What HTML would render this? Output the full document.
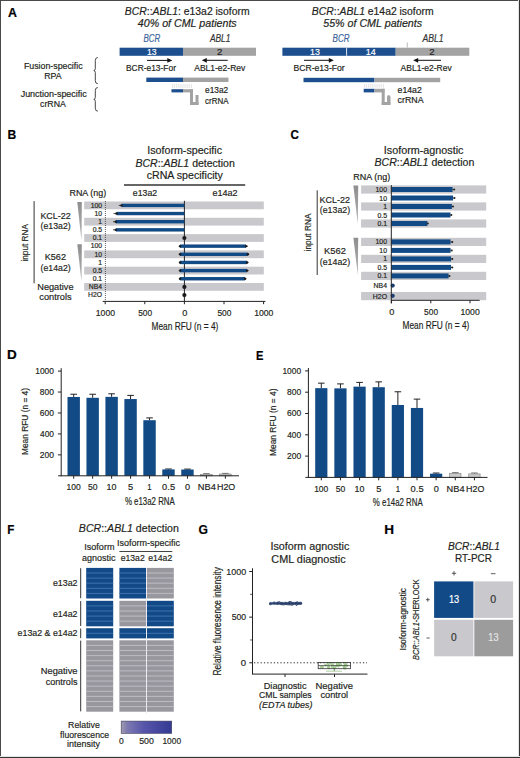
<!DOCTYPE html>
<html><head><meta charset="utf-8"><title>Figure</title>
<style>
html,body{margin:0;padding:0;background:#fff;}
body{width:520px;height:758px;overflow:hidden;}
svg{display:block;font-family:"Liberation Sans",sans-serif;}
text{stroke-width:0.18px;}
</style></head>
<body>
<svg width="520" height="758" viewBox="0 0 520 758" fill="#231f20">
<rect x="0" y="0" width="520" height="758" fill="#fff" />
<rect x="0" y="0" width="520" height="1" fill="#4a4a4a" />
<rect x="0" y="0" width="1" height="758" fill="#4a4a4a" />
<rect x="518" y="0" width="1" height="758" fill="#e4e4e4" />
<rect x="519" y="0" width="1" height="758" fill="#353535" />
<rect x="0" y="756" width="520" height="1" fill="#e4e4e4" />
<rect x="0" y="757" width="520" height="1" fill="#353535" />
<text x="7.99" y="16.8" font-size="12.8" font-weight="bold" textLength="8.95" lengthAdjust="spacingAndGlyphs" fill="#000" stroke="#000" stroke-width="0.4">A</text>
<text x="7.51" y="138.6" font-size="12.8" font-weight="bold" textLength="8.76" lengthAdjust="spacingAndGlyphs" fill="#000" stroke="#000" stroke-width="0.4">B</text>
<text x="290.44" y="138.5" font-size="12.8" font-weight="bold" textLength="8.38" lengthAdjust="spacingAndGlyphs" fill="#000" stroke="#000" stroke-width="0.4">C</text>
<text x="6.92" y="359.3" font-size="12.8" font-weight="bold" textLength="9.75" lengthAdjust="spacingAndGlyphs" fill="#000" stroke="#000" stroke-width="0.4">D</text>
<text x="256.08" y="359.5" font-size="12.8" font-weight="bold" textLength="7.44" lengthAdjust="spacingAndGlyphs" fill="#000" stroke="#000" stroke-width="0.4">E</text>
<text x="7.25" y="534.3" font-size="12.8" font-weight="bold" textLength="7.07" lengthAdjust="spacingAndGlyphs" fill="#000" stroke="#000" stroke-width="0.4">F</text>
<text x="198.41" y="534.1" font-size="12.8" font-weight="bold" textLength="9.45" lengthAdjust="spacingAndGlyphs" fill="#000" stroke="#000" stroke-width="0.4">G</text>
<text x="384.22" y="534.3" font-size="12.8" font-weight="bold" textLength="9.79" lengthAdjust="spacingAndGlyphs" fill="#000" stroke="#000" stroke-width="0.4">H</text>
<text x="124.89" y="15.3" font-size="10.20" textLength="124.75" lengthAdjust="spacingAndGlyphs" fill="#231f20" stroke="#231f20"><tspan font-style="italic">BCR</tspan>::<tspan font-style="italic">ABL1</tspan>: e13a2 isoform</text>
<text x="137.85" y="27.2" font-size="10.20" textLength="98.86" lengthAdjust="spacingAndGlyphs" fill="#231f20" stroke="#231f20"><tspan font-style="italic">40% of CML patients</tspan></text>
<text x="143.56" y="41.6" font-size="10.20" textLength="16.69" lengthAdjust="spacingAndGlyphs" fill="#3a639a" stroke="#3a639a"><tspan font-style="italic">BCR</tspan></text>
<text x="209.92" y="41.7" font-size="10.20" textLength="20.51" lengthAdjust="spacingAndGlyphs" fill="#333" stroke="#333"><tspan font-style="italic">ABL1</tspan></text>
<rect x="119.6" y="47.7" width="63.4" height="8.1" fill="#1d4f8f" />
<rect x="183" y="47.7" width="73" height="8.1" fill="#a3a3a3" />
<text x="146.95" y="54.6" font-size="9.20" textLength="9.61" lengthAdjust="spacingAndGlyphs" fill="#fff" stroke="#fff">13</text>
<text x="216.92" y="54.6" font-size="9.20" textLength="5.38" lengthAdjust="spacingAndGlyphs" fill="#222" stroke="#222">2</text>
<line x1="147" y1="60.4" x2="169.3" y2="60.4" stroke="#111" stroke-width="1" />
<path d="M172.3,60.4 L167.3,58.0 L167.3,62.8 Z" fill="#111"/>
<line x1="204.8" y1="60.3" x2="227.7" y2="60.3" stroke="#111" stroke-width="1" />
<path d="M201.8,60.3 L206.8,57.9 L206.8,62.699999999999996 Z" fill="#111"/>
<text x="126.03" y="71.2" font-size="8.40" textLength="49.91" lengthAdjust="spacingAndGlyphs" fill="#231f20" stroke="#231f20">BCR-e13-For</text>
<text x="194.30" y="71" font-size="8.40" textLength="50.93" lengthAdjust="spacingAndGlyphs" fill="#231f20" stroke="#231f20">ABL1-e2-Rev</text>
<rect x="146.3" y="77.6" width="36.7" height="4.4" fill="#1d4f8f" />
<rect x="183" y="77.6" width="45.5" height="4.4" fill="#a3a3a3" />
<line x1="172.5" y1="84" x2="172.5" y2="88" stroke="#dcdcdc" stroke-width="0.8" />
<line x1="174.6" y1="84" x2="174.6" y2="88" stroke="#dcdcdc" stroke-width="0.8" />
<line x1="176.7" y1="84" x2="176.7" y2="88" stroke="#dcdcdc" stroke-width="0.8" />
<line x1="178.8" y1="84" x2="178.8" y2="88" stroke="#dcdcdc" stroke-width="0.8" />
<line x1="180.9" y1="84" x2="180.9" y2="88" stroke="#dcdcdc" stroke-width="0.8" />
<line x1="183.0" y1="84" x2="183.0" y2="88" stroke="#dcdcdc" stroke-width="0.8" />
<line x1="185.1" y1="84" x2="185.1" y2="88" stroke="#dcdcdc" stroke-width="0.8" />
<line x1="187.2" y1="84" x2="187.2" y2="88" stroke="#dcdcdc" stroke-width="0.8" />
<line x1="189.3" y1="84" x2="189.3" y2="88" stroke="#dcdcdc" stroke-width="0.8" />
<line x1="191.4" y1="84" x2="191.4" y2="88" stroke="#dcdcdc" stroke-width="0.8" />
<rect x="171.5" y="89.2" width="11.5" height="3.2" fill="#1d4f8f" />
<rect x="183" y="89.2" width="10" height="3.2" fill="#a3a3a3" />
<rect x="190" y="89.2" width="3" height="15.8" fill="#a3a3a3" />
<rect x="190" y="102" width="8.5" height="3" fill="#a3a3a3" />
<rect x="195.5" y="95" width="3" height="10" fill="#a3a3a3" />
<text x="205.07" y="93" font-size="8.40" textLength="23.05" lengthAdjust="spacingAndGlyphs" fill="#231f20" stroke="#231f20">e13a2</text>
<text x="205.08" y="103.8" font-size="8.40" textLength="23.45" lengthAdjust="spacingAndGlyphs" fill="#231f20" stroke="#231f20">crRNA</text>
<text x="311.89" y="15.3" font-size="10.20" textLength="121.67" lengthAdjust="spacingAndGlyphs" fill="#231f20" stroke="#231f20"><tspan font-style="italic">BCR</tspan>::<tspan font-style="italic">ABL1</tspan> e14a2 isoform</text>
<text x="323.23" y="27.2" font-size="10.20" textLength="98.88" lengthAdjust="spacingAndGlyphs" fill="#231f20" stroke="#231f20"><tspan font-style="italic">55% of CML patients</tspan></text>
<text x="332.56" y="41.8" font-size="10.20" textLength="16.89" lengthAdjust="spacingAndGlyphs" fill="#3a639a" stroke="#3a639a"><tspan font-style="italic">BCR</tspan></text>
<text x="422.43" y="41.8" font-size="10.20" textLength="21.11" lengthAdjust="spacingAndGlyphs" fill="#333" stroke="#333"><tspan font-style="italic">ABL1</tspan></text>
<rect x="282.4" y="47.7" width="113.3" height="8.1" fill="#1d4f8f" />
<rect x="395.7" y="47.7" width="73.6" height="8.1" fill="#a3a3a3" />
<rect x="346.1" y="47.7" width="1" height="8.1" fill="#dfe7f1" />
<line x1="407.3" y1="42.5" x2="407.3" y2="47.5" stroke="#aaa" stroke-width="0.8" />
<text x="310.04" y="54.6" font-size="9.20" textLength="9.84" lengthAdjust="spacingAndGlyphs" fill="#fff" stroke="#fff">13</text>
<text x="365.73" y="54.6" font-size="9.20" textLength="9.96" lengthAdjust="spacingAndGlyphs" fill="#fff" stroke="#fff">14</text>
<text x="429.32" y="54.6" font-size="9.20" textLength="5.38" lengthAdjust="spacingAndGlyphs" fill="#222" stroke="#222">2</text>
<line x1="304" y1="60.3" x2="330.8" y2="60.3" stroke="#111" stroke-width="1" />
<path d="M333.8,60.3 L328.8,57.9 L328.8,62.699999999999996 Z" fill="#111"/>
<line x1="416.2" y1="60.3" x2="441" y2="60.3" stroke="#111" stroke-width="1" />
<path d="M413.2,60.3 L418.2,57.9 L418.2,62.699999999999996 Z" fill="#111"/>
<text x="293.41" y="71" font-size="8.40" textLength="51.33" lengthAdjust="spacingAndGlyphs" fill="#231f20" stroke="#231f20">BCR-e13-For</text>
<text x="400.60" y="71" font-size="8.40" textLength="51.13" lengthAdjust="spacingAndGlyphs" fill="#231f20" stroke="#231f20">ABL1-e2-Rev</text>
<rect x="303.5" y="77.8" width="71" height="4.4" fill="#1d4f8f" />
<rect x="374.5" y="77.8" width="65.7" height="4.4" fill="#a3a3a3" />
<line x1="364.5" y1="84" x2="364.5" y2="87.8" stroke="#dcdcdc" stroke-width="0.8" />
<line x1="366.6" y1="84" x2="366.6" y2="87.8" stroke="#dcdcdc" stroke-width="0.8" />
<line x1="368.7" y1="84" x2="368.7" y2="87.8" stroke="#dcdcdc" stroke-width="0.8" />
<line x1="370.8" y1="84" x2="370.8" y2="87.8" stroke="#dcdcdc" stroke-width="0.8" />
<line x1="372.9" y1="84" x2="372.9" y2="87.8" stroke="#dcdcdc" stroke-width="0.8" />
<line x1="375.0" y1="84" x2="375.0" y2="87.8" stroke="#dcdcdc" stroke-width="0.8" />
<line x1="377.1" y1="84" x2="377.1" y2="87.8" stroke="#dcdcdc" stroke-width="0.8" />
<line x1="379.2" y1="84" x2="379.2" y2="87.8" stroke="#dcdcdc" stroke-width="0.8" />
<line x1="381.3" y1="84" x2="381.3" y2="87.8" stroke="#dcdcdc" stroke-width="0.8" />
<line x1="383.4" y1="84" x2="383.4" y2="87.8" stroke="#dcdcdc" stroke-width="0.8" />
<rect x="363.7" y="88.8" width="10.8" height="3.6" fill="#1d4f8f" />
<rect x="374.5" y="88.8" width="9.9" height="3.6" fill="#a3a3a3" />
<rect x="381.7" y="88.8" width="3" height="16" fill="#a3a3a3" />
<rect x="381.7" y="102" width="8.6" height="3" fill="#a3a3a3" />
<rect x="387.2" y="95.2" width="3.1" height="9.8" rx="1.2" fill="#a3a3a3"/>
<rect x="387.2" y="97" width="3.1" height="8" fill="#a3a3a3" />
<text x="397.55" y="92.5" font-size="8.40" textLength="24.19" lengthAdjust="spacingAndGlyphs" fill="#231f20" stroke="#231f20">e14a2</text>
<text x="397.55" y="103.2" font-size="8.40" textLength="25.99" lengthAdjust="spacingAndGlyphs" fill="#231f20" stroke="#231f20">crRNA</text>
<text x="23.90" y="68.8" font-size="8.80" textLength="58.72" lengthAdjust="spacingAndGlyphs" fill="#231f20" stroke="#231f20">Fusion-specific</text>
<text x="44.30" y="78.8" font-size="8.80" textLength="17.32" lengthAdjust="spacingAndGlyphs" fill="#231f20" stroke="#231f20">RPA</text>
<text x="20.67" y="97.3" font-size="8.80" textLength="66.08" lengthAdjust="spacingAndGlyphs" fill="#231f20" stroke="#231f20">Junction-specific</text>
<text x="40.05" y="106.8" font-size="8.80" textLength="25.79" lengthAdjust="spacingAndGlyphs" fill="#231f20" stroke="#231f20">crRNA</text>
<path d="M97.8,57.5 Q95.3,57.5 95.3,60.5 L95.3,68.6 Q95.3,70.6 93.8,70.6 Q95.3,70.6 95.3,72.6 L95.3,80.7 Q95.3,83.7 97.8,83.7" fill="none" stroke="#333" stroke-width="0.9"/>
<path d="M97.8,87.5 Q95.3,87.5 95.3,90.5 L95.3,97.35 Q95.3,99.35 93.8,99.35 Q95.3,99.35 95.3,101.35 L95.3,108.2 Q95.3,111.2 97.8,111.2" fill="none" stroke="#333" stroke-width="0.9"/>
<text x="147.24" y="153.7" font-size="10.30" textLength="74.75" lengthAdjust="spacingAndGlyphs" fill="#231f20" stroke="#231f20">Isoform-specific</text>
<text x="135.48" y="166.6" font-size="10.30" textLength="99.30" lengthAdjust="spacingAndGlyphs" fill="#231f20" stroke="#231f20"><tspan font-style="italic">BCR</tspan>::<tspan font-style="italic">ABL1</tspan> detection</text>
<text x="146.67" y="178.8" font-size="10.30" textLength="76.21" lengthAdjust="spacingAndGlyphs" fill="#231f20" stroke="#231f20">cRNA specificity</text>
<line x1="124" y1="185" x2="245.2" y2="185" stroke="#333" stroke-width="1.4" />
<text x="132.85" y="195.7" font-size="8.40" textLength="24.29" lengthAdjust="spacingAndGlyphs" fill="#231f20" stroke="#231f20">e13a2</text>
<text x="212.54" y="195.8" font-size="8.40" textLength="25.12" lengthAdjust="spacingAndGlyphs" fill="#231f20" stroke="#231f20">e14a2</text>
<text x="69.49" y="195.6" font-size="8.20" textLength="36.67" lengthAdjust="spacingAndGlyphs" fill="#231f20" stroke="#231f20">RNA (ng)</text>
<rect x="84.2" y="201.5" width="179.6" height="7.8" fill="#c9c9cd" />
<text x="102.1" y="207.7" font-size="6.8" text-anchor="end" fill="#231f20" stroke="#231f20">100</text>
<text x="102.1" y="215.85" font-size="6.8" text-anchor="end" fill="#231f20" stroke="#231f20">10</text>
<rect x="84.2" y="217.8" width="179.6" height="7.8" fill="#c9c9cd" />
<text x="102.1" y="224.0" font-size="6.8" text-anchor="end" fill="#231f20" stroke="#231f20">1</text>
<text x="102.1" y="232.14999999999998" font-size="6.8" text-anchor="end" fill="#231f20" stroke="#231f20">0.5</text>
<rect x="84.2" y="234.1" width="179.6" height="7.8" fill="#c9c9cd" />
<text x="102.1" y="240.29999999999998" font-size="6.8" text-anchor="end" fill="#231f20" stroke="#231f20">0.1</text>
<text x="102.1" y="248.45" font-size="6.8" text-anchor="end" fill="#231f20" stroke="#231f20">100</text>
<rect x="84.2" y="250.4" width="179.6" height="7.8" fill="#c9c9cd" />
<text x="102.1" y="256.6" font-size="6.8" text-anchor="end" fill="#231f20" stroke="#231f20">10</text>
<text x="102.1" y="264.75" font-size="6.8" text-anchor="end" fill="#231f20" stroke="#231f20">1</text>
<rect x="84.2" y="266.7" width="179.6" height="7.8" fill="#c9c9cd" />
<text x="102.1" y="272.9" font-size="6.8" text-anchor="end" fill="#231f20" stroke="#231f20">0.5</text>
<text x="102.1" y="281.05" font-size="6.8" text-anchor="end" fill="#231f20" stroke="#231f20">0.1</text>
<rect x="84.2" y="283.0" width="179.6" height="7.8" fill="#c9c9cd" />
<text x="102.1" y="289.2" font-size="6.8" text-anchor="end" fill="#231f20" stroke="#231f20">NB4</text>
<text x="102.1" y="297.34999999999997" font-size="6.8" text-anchor="end" fill="#231f20" stroke="#231f20">H2O</text>
<line x1="105.4" y1="201" x2="105.4" y2="301.2" stroke="#333" stroke-width="0.9" stroke-dasharray="0.9,1.1"/>
<line x1="184.4" y1="200.8" x2="184.4" y2="301.2" stroke="#222" stroke-width="1" />
<rect x="121.5" y="203.70000000000002" width="62.900000000000006" height="3.4" fill="#114a85" />
<line x1="118.8" y1="205.4" x2="121.5" y2="205.4" stroke="#222" stroke-width="0.8" />
<circle cx="121.5" cy="205.4" r="1.2" fill="#1a1a1a"/>
<rect x="116.5" y="211.85000000000002" width="67.9" height="3.4" fill="#114a85" />
<line x1="113.5" y1="213.55" x2="116.5" y2="213.55" stroke="#222" stroke-width="0.8" />
<circle cx="116.5" cy="213.55" r="1.2" fill="#1a1a1a"/>
<rect x="115.8" y="220.00000000000003" width="68.60000000000001" height="3.4" fill="#114a85" />
<line x1="113" y1="221.70000000000002" x2="115.8" y2="221.70000000000002" stroke="#222" stroke-width="0.8" />
<circle cx="115.8" cy="221.70000000000002" r="1.2" fill="#1a1a1a"/>
<rect x="115.8" y="228.15" width="68.60000000000001" height="3.4" fill="#114a85" />
<line x1="113" y1="229.85" x2="115.8" y2="229.85" stroke="#222" stroke-width="0.8" />
<circle cx="115.8" cy="229.85" r="1.2" fill="#1a1a1a"/>
<rect x="180" y="244.45000000000002" width="66" height="3.4" fill="#114a85" />
<line x1="246" y1="246.15" x2="247.9" y2="246.15" stroke="#222" stroke-width="0.8" />
<circle cx="246" cy="246.15" r="1.2" fill="#1a1a1a"/>
<circle cx="180" cy="246.15" r="1.2" fill="#1a1a1a"/>
<rect x="180" y="252.60000000000002" width="67.9" height="3.4" fill="#114a85" />
<line x1="247.9" y1="254.3" x2="249" y2="254.3" stroke="#222" stroke-width="0.8" />
<circle cx="247.9" cy="254.3" r="1.2" fill="#1a1a1a"/>
<circle cx="180" cy="254.3" r="1.2" fill="#1a1a1a"/>
<rect x="180" y="260.75" width="67.1" height="3.4" fill="#114a85" />
<line x1="247.1" y1="262.45" x2="248.5" y2="262.45" stroke="#222" stroke-width="0.8" />
<circle cx="247.1" cy="262.45" r="1.2" fill="#1a1a1a"/>
<circle cx="180" cy="262.45" r="1.2" fill="#1a1a1a"/>
<rect x="180" y="268.9" width="67.1" height="3.4" fill="#114a85" />
<line x1="247.1" y1="270.59999999999997" x2="248.5" y2="270.59999999999997" stroke="#222" stroke-width="0.8" />
<circle cx="247.1" cy="270.59999999999997" r="1.2" fill="#1a1a1a"/>
<circle cx="180" cy="270.59999999999997" r="1.2" fill="#1a1a1a"/>
<rect x="180" y="277.05" width="65" height="3.4" fill="#114a85" />
<line x1="245" y1="278.75" x2="246.5" y2="278.75" stroke="#222" stroke-width="0.8" />
<circle cx="245" cy="278.75" r="1.2" fill="#1a1a1a"/>
<circle cx="180" cy="278.75" r="1.2" fill="#1a1a1a"/>
<circle cx="184.4" cy="238.0" r="2.1" fill="#1a1a1a"/>
<circle cx="184.4" cy="286.9" r="2.1" fill="#1a1a1a"/>
<circle cx="184.4" cy="295.04999999999995" r="2.1" fill="#1a1a1a"/>
<line x1="102.7" y1="301.4" x2="265.4" y2="301.4" stroke="#222" stroke-width="1" />
<line x1="105.2" y1="301.4" x2="105.2" y2="304.2" stroke="#222" stroke-width="1" />
<text x="95.80" y="315.5" font-size="9.20" textLength="19.25" lengthAdjust="spacingAndGlyphs" fill="#231f20" stroke="#231f20">1000</text>
<line x1="144.8" y1="301.4" x2="144.8" y2="304.2" stroke="#222" stroke-width="1" />
<text x="138.22" y="315.5" font-size="9.20" textLength="13.96" lengthAdjust="spacingAndGlyphs" fill="#231f20" stroke="#231f20">500</text>
<line x1="184.4" y1="301.4" x2="184.4" y2="304.2" stroke="#222" stroke-width="1" />
<text x="182.23" y="315.5" font-size="9.20" textLength="5.10" lengthAdjust="spacingAndGlyphs" fill="#231f20" stroke="#231f20">0</text>
<line x1="224" y1="301.4" x2="224" y2="304.2" stroke="#222" stroke-width="1" />
<text x="217.42" y="315.5" font-size="9.20" textLength="13.96" lengthAdjust="spacingAndGlyphs" fill="#231f20" stroke="#231f20">500</text>
<line x1="263.6" y1="301.4" x2="263.6" y2="304.2" stroke="#222" stroke-width="1" />
<text x="254.20" y="315.5" font-size="9.20" textLength="19.25" lengthAdjust="spacingAndGlyphs" fill="#231f20" stroke="#231f20">1000</text>
<text x="151.53" y="329.6" font-size="11.00" textLength="66.81" lengthAdjust="spacingAndGlyphs" fill="#231f20" stroke="#231f20">Mean RFU (n = 4)</text>
<line x1="34.1" y1="201.1" x2="34.1" y2="283.3" stroke="#333" stroke-width="1" />
<text transform="translate(27.50,261.54) rotate(-90)" x="0" y="0" font-size="9.60" textLength="37.56" lengthAdjust="spacingAndGlyphs" fill="#231f20" stroke="#231f20">input RNA</text>
<defs><linearGradient id="wg" x1="0" y1="0" x2="0" y2="1"><stop offset="0" stop-color="#8e8e8e"/><stop offset="1" stop-color="#b4b4b4"/></linearGradient></defs>
<path d="M77.3,202 L81.8,202 L81.5,240.7 Z" fill="url(#wg)"/>
<path d="M77.3,244.3 L81.8,244.3 L81.5,281.7 Z" fill="url(#wg)"/>
<text x="40.39" y="219" font-size="9.30" textLength="30.27" lengthAdjust="spacingAndGlyphs" fill="#231f20" stroke="#231f20">KCL-22</text>
<text x="40.57" y="228.7" font-size="9.30" textLength="30.17" lengthAdjust="spacingAndGlyphs" fill="#231f20" stroke="#231f20">(e13a2)</text>
<text x="44.77" y="260.4" font-size="9.30" textLength="21.18" lengthAdjust="spacingAndGlyphs" fill="#231f20" stroke="#231f20">K562</text>
<text x="40.57" y="270.5" font-size="9.30" textLength="30.17" lengthAdjust="spacingAndGlyphs" fill="#231f20" stroke="#231f20">(e14a2)</text>
<text x="37.26" y="290.1" font-size="9.30" textLength="36.27" lengthAdjust="spacingAndGlyphs" fill="#231f20" stroke="#231f20">Negative</text>
<text x="39.33" y="299.6" font-size="9.30" textLength="32.31" lengthAdjust="spacingAndGlyphs" fill="#231f20" stroke="#231f20">controls</text>
<text x="383.83" y="153.8" font-size="10.30" textLength="79.66" lengthAdjust="spacingAndGlyphs" fill="#231f20" stroke="#231f20">Isoform-agnostic</text>
<text x="374.48" y="166.2" font-size="10.30" textLength="99.80" lengthAdjust="spacingAndGlyphs" fill="#231f20" stroke="#231f20"><tspan font-style="italic">BCR</tspan>::<tspan font-style="italic">ABL1</tspan> detection</text>
<text x="353.38" y="180" font-size="8.20" textLength="36.88" lengthAdjust="spacingAndGlyphs" fill="#231f20" stroke="#231f20">RNA (ng)</text>
<rect x="361.1" y="185.4" width="125.1" height="8.2" fill="#c9c9cd" />
<text x="387" y="192.0" font-size="6.9" text-anchor="end" fill="#231f20" stroke="#231f20">100</text>
<text x="387" y="200.5" font-size="6.9" text-anchor="end" fill="#231f20" stroke="#231f20">10</text>
<rect x="361.1" y="202.4" width="125.1" height="8.2" fill="#c9c9cd" />
<text x="387" y="209.0" font-size="6.9" text-anchor="end" fill="#231f20" stroke="#231f20">1</text>
<text x="387" y="217.5" font-size="6.9" text-anchor="end" fill="#231f20" stroke="#231f20">0.5</text>
<rect x="361.1" y="219.4" width="125.1" height="8.2" fill="#c9c9cd" />
<text x="387" y="226.0" font-size="6.9" text-anchor="end" fill="#231f20" stroke="#231f20">0.1</text>
<rect x="361.1" y="237.8" width="125.1" height="8.2" fill="#c9c9cd" />
<text x="387" y="244.4" font-size="6.9" text-anchor="end" fill="#231f20" stroke="#231f20">100</text>
<text x="387" y="252.9" font-size="6.9" text-anchor="end" fill="#231f20" stroke="#231f20">10</text>
<rect x="361.1" y="254.8" width="125.1" height="8.2" fill="#c9c9cd" />
<text x="387" y="261.40000000000003" font-size="6.9" text-anchor="end" fill="#231f20" stroke="#231f20">1</text>
<text x="387" y="269.90000000000003" font-size="6.9" text-anchor="end" fill="#231f20" stroke="#231f20">0.5</text>
<rect x="361.1" y="271.8" width="125.1" height="8.2" fill="#c9c9cd" />
<text x="387" y="278.40000000000003" font-size="6.9" text-anchor="end" fill="#231f20" stroke="#231f20">0.1</text>
<text x="387" y="287.90000000000003" font-size="6.9" text-anchor="end" fill="#231f20" stroke="#231f20">NB4</text>
<rect x="361.1" y="292" width="125.1" height="8.2" fill="#c9c9cd" />
<text x="387" y="298.6" font-size="6.9" text-anchor="end" fill="#231f20" stroke="#231f20">H2O</text>
<rect x="391.3" y="187.0" width="61.3073" height="5" fill="#114a85" />
<line x1="452.6073" y1="189.5" x2="454.1813" y2="189.5" stroke="#222" stroke-width="0.9" />
<circle cx="454.2" cy="189.5" r="1" fill="#222"/>
<rect x="391.3" y="195.5" width="61.779499999999985" height="5" fill="#114a85" />
<line x1="453.0795" y1="198.0" x2="454.4961" y2="198.0" stroke="#222" stroke-width="0.9" />
<circle cx="454.5" cy="198.0" r="1" fill="#222"/>
<rect x="391.3" y="204.0" width="60.59899999999999" height="5" fill="#114a85" />
<line x1="451.899" y1="206.5" x2="453.0008" y2="206.5" stroke="#222" stroke-width="0.9" />
<circle cx="453.0" cy="206.5" r="1" fill="#222"/>
<rect x="391.3" y="212.5" width="59.18239999999997" height="5" fill="#114a85" />
<line x1="450.4824" y1="215.0" x2="451.42679999999996" y2="215.0" stroke="#222" stroke-width="0.9" />
<circle cx="451.4" cy="215.0" r="1" fill="#222"/>
<rect x="391.3" y="221.0" width="36.0446" height="5" fill="#114a85" />
<line x1="427.3446" y1="223.5" x2="427.8168" y2="223.5" stroke="#222" stroke-width="0.9" />
<circle cx="427.8" cy="223.5" r="1" fill="#222"/>
<rect x="391.3" y="239.4" width="59.2611" height="5" fill="#114a85" />
<line x1="450.5611" y1="241.9" x2="452.2925" y2="241.9" stroke="#222" stroke-width="0.9" />
<circle cx="452.3" cy="241.9" r="1" fill="#222"/>
<rect x="391.3" y="247.9" width="59.2611" height="5" fill="#114a85" />
<line x1="450.5611" y1="250.4" x2="451.82030000000003" y2="250.4" stroke="#222" stroke-width="0.9" />
<circle cx="451.8" cy="250.4" r="1" fill="#222"/>
<rect x="391.3" y="256.40000000000003" width="59.733299999999986" height="5" fill="#114a85" />
<line x1="451.0333" y1="258.90000000000003" x2="452.2925" y2="258.90000000000003" stroke="#222" stroke-width="0.9" />
<circle cx="452.3" cy="258.90000000000003" r="1" fill="#222"/>
<rect x="391.3" y="264.90000000000003" width="59.733299999999986" height="5" fill="#114a85" />
<line x1="451.0333" y1="267.40000000000003" x2="452.2925" y2="267.40000000000003" stroke="#222" stroke-width="0.9" />
<circle cx="452.3" cy="267.40000000000003" r="1" fill="#222"/>
<rect x="391.3" y="273.40000000000003" width="57.293600000000026" height="5" fill="#114a85" />
<line x1="448.59360000000004" y1="275.90000000000003" x2="449.538" y2="275.90000000000003" stroke="#222" stroke-width="0.9" />
<circle cx="449.5" cy="275.90000000000003" r="1" fill="#222"/>
<circle cx="392.7" cy="285.6" r="2.1" fill="#1b3f73"/>
<circle cx="392.7" cy="295.8" r="2.1" fill="#1b3f73"/>
<line x1="391.3" y1="185.1" x2="391.3" y2="303.3" stroke="#222" stroke-width="1" />
<line x1="391.3" y1="300.3" x2="479.7" y2="300.3" stroke="#222" stroke-width="1" />
<line x1="391.4" y1="300.3" x2="391.4" y2="303.3" stroke="#222" stroke-width="1" />
<text x="389.13" y="314.7" font-size="9.20" textLength="5.10" lengthAdjust="spacingAndGlyphs" fill="#231f20" stroke="#231f20">0</text>
<line x1="430.8" y1="300.3" x2="430.8" y2="303.3" stroke="#222" stroke-width="1" />
<text x="424.12" y="314.7" font-size="9.20" textLength="13.96" lengthAdjust="spacingAndGlyphs" fill="#231f20" stroke="#231f20">500</text>
<line x1="470" y1="300.3" x2="470" y2="303.3" stroke="#222" stroke-width="1" />
<text x="460.50" y="314.7" font-size="9.20" textLength="19.25" lengthAdjust="spacingAndGlyphs" fill="#231f20" stroke="#231f20">1000</text>
<text x="402.53" y="329.3" font-size="11.00" textLength="66.81" lengthAdjust="spacingAndGlyphs" fill="#231f20" stroke="#231f20">Mean RFU (n = 4)</text>
<line x1="317.2" y1="190.3" x2="317.2" y2="275" stroke="#333" stroke-width="1" />
<text transform="translate(311.30,251.34) rotate(-90)" x="0" y="0" font-size="9.60" textLength="37.76" lengthAdjust="spacingAndGlyphs" fill="#231f20" stroke="#231f20">input RNA</text>
<path d="M353.4,185.6 L358.2,185.6 L357.8,224.3 Z" fill="url(#wg)"/>
<path d="M353.4,237.8 L358.2,237.8 L357.8,275 Z" fill="url(#wg)"/>
<text x="319.58" y="203" font-size="9.30" textLength="30.48" lengthAdjust="spacingAndGlyphs" fill="#231f20" stroke="#231f20">KCL-22</text>
<text x="319.77" y="213.3" font-size="9.30" textLength="30.37" lengthAdjust="spacingAndGlyphs" fill="#231f20" stroke="#231f20">(e13a2)</text>
<text x="324.05" y="254.4" font-size="9.30" textLength="21.82" lengthAdjust="spacingAndGlyphs" fill="#231f20" stroke="#231f20">K562</text>
<text x="319.77" y="264.7" font-size="9.30" textLength="30.37" lengthAdjust="spacingAndGlyphs" fill="#231f20" stroke="#231f20">(e14a2)</text>
<line x1="61.2" y1="368.2" x2="61.2" y2="476.3" stroke="#222" stroke-width="1" />
<line x1="57.900000000000006" y1="371.1" x2="61.2" y2="371.1" stroke="#222" stroke-width="1" />
<text x="35.27" y="373.8" font-size="9.00" textLength="18.62" lengthAdjust="spacingAndGlyphs" fill="#231f20" stroke="#231f20">1000</text>
<line x1="57.900000000000006" y1="392.04" x2="61.2" y2="392.04" stroke="#222" stroke-width="1" />
<text x="39.82" y="394.74" font-size="9.00" textLength="14.11" lengthAdjust="spacingAndGlyphs" fill="#231f20" stroke="#231f20">800</text>
<line x1="57.900000000000006" y1="412.98" x2="61.2" y2="412.98" stroke="#222" stroke-width="1" />
<text x="39.78" y="415.68" font-size="9.00" textLength="14.15" lengthAdjust="spacingAndGlyphs" fill="#231f20" stroke="#231f20">600</text>
<line x1="57.900000000000006" y1="433.92" x2="61.2" y2="433.92" stroke="#222" stroke-width="1" />
<text x="40.03" y="436.62" font-size="9.00" textLength="13.89" lengthAdjust="spacingAndGlyphs" fill="#231f20" stroke="#231f20">400</text>
<line x1="57.900000000000006" y1="454.86" x2="61.2" y2="454.86" stroke="#222" stroke-width="1" />
<text x="39.78" y="457.56" font-size="9.00" textLength="14.15" lengthAdjust="spacingAndGlyphs" fill="#231f20" stroke="#231f20">200</text>
<line x1="73.7" y1="396.96090000000004" x2="73.7" y2="394.23870000000005" stroke="#222" stroke-width="1" />
<line x1="70.4" y1="394.23870000000005" x2="77.0" y2="394.23870000000005" stroke="#222" stroke-width="1" />
<rect x="67.5" y="396.96090000000004" width="12.4" height="78.83909999999997" fill="#114a85" />
<line x1="73.7" y1="475.8" x2="73.7" y2="478.7" stroke="#222" stroke-width="1" />
<text x="66.56" y="490.3" font-size="9.00" textLength="14.16" lengthAdjust="spacingAndGlyphs" fill="#231f20" stroke="#231f20">100</text>
<line x1="92.66000000000001" y1="397.7985" x2="92.66000000000001" y2="394.2387" stroke="#222" stroke-width="1" />
<line x1="89.36000000000001" y1="394.2387" x2="95.96000000000001" y2="394.2387" stroke="#222" stroke-width="1" />
<rect x="86.46000000000001" y="397.7985" width="12.4" height="78.00150000000002" fill="#114a85" />
<line x1="92.66000000000001" y1="475.8" x2="92.66000000000001" y2="478.7" stroke="#222" stroke-width="1" />
<text x="87.97" y="490.3" font-size="9.00" textLength="9.57" lengthAdjust="spacingAndGlyphs" fill="#231f20" stroke="#231f20">50</text>
<line x1="111.62" y1="396.8562" x2="111.62" y2="393.8199" stroke="#222" stroke-width="1" />
<line x1="108.32000000000001" y1="393.8199" x2="114.92" y2="393.8199" stroke="#222" stroke-width="1" />
<rect x="105.42" y="396.8562" width="12.4" height="78.94380000000001" fill="#114a85" />
<line x1="111.62" y1="475.8" x2="111.62" y2="478.7" stroke="#222" stroke-width="1" />
<text x="106.60" y="490.3" font-size="9.00" textLength="9.90" lengthAdjust="spacingAndGlyphs" fill="#231f20" stroke="#231f20">10</text>
<line x1="130.57999999999998" y1="399.0549" x2="130.57999999999998" y2="395.3904" stroke="#222" stroke-width="1" />
<line x1="127.27999999999999" y1="395.3904" x2="133.88" y2="395.3904" stroke="#222" stroke-width="1" />
<rect x="124.38" y="399.0549" width="12.4" height="76.74510000000004" fill="#114a85" />
<line x1="130.57999999999998" y1="475.8" x2="130.57999999999998" y2="478.7" stroke="#222" stroke-width="1" />
<text x="128.11" y="490.3" font-size="9.00" textLength="5.15" lengthAdjust="spacingAndGlyphs" fill="#231f20" stroke="#231f20">5</text>
<line x1="149.54" y1="420.2043" x2="149.54" y2="417.9009" stroke="#222" stroke-width="1" />
<line x1="146.23999999999998" y1="417.9009" x2="152.84" y2="417.9009" stroke="#222" stroke-width="1" />
<rect x="143.34" y="420.2043" width="12.4" height="55.59570000000002" fill="#114a85" />
<line x1="149.54" y1="475.8" x2="149.54" y2="478.7" stroke="#222" stroke-width="1" />
<text x="147.35" y="490.3" font-size="9.00" textLength="4.35" lengthAdjust="spacingAndGlyphs" fill="#231f20" stroke="#231f20">1</text>
<line x1="168.5" y1="469.4133" x2="168.5" y2="468.9945" stroke="#222" stroke-width="1" />
<line x1="165.2" y1="468.9945" x2="171.8" y2="468.9945" stroke="#222" stroke-width="1" />
<rect x="162.3" y="469.4133" width="12.4" height="6.386700000000019" fill="#114a85" />
<line x1="168.5" y1="475.8" x2="168.5" y2="478.7" stroke="#222" stroke-width="1" />
<text x="162.13" y="490.3" font-size="9.00" textLength="12.95" lengthAdjust="spacingAndGlyphs" fill="#231f20" stroke="#231f20">0.5</text>
<line x1="187.45999999999998" y1="469.51800000000003" x2="187.45999999999998" y2="469.09920000000005" stroke="#222" stroke-width="1" />
<line x1="184.15999999999997" y1="469.09920000000005" x2="190.76" y2="469.09920000000005" stroke="#222" stroke-width="1" />
<rect x="181.26" y="469.51800000000003" width="12.4" height="6.281999999999982" fill="#114a85" />
<line x1="187.45999999999998" y1="475.8" x2="187.45999999999998" y2="478.7" stroke="#222" stroke-width="1" />
<text x="184.99" y="490.3" font-size="9.00" textLength="5.10" lengthAdjust="spacingAndGlyphs" fill="#231f20" stroke="#231f20">0</text>
<line x1="206.42" y1="474.3342" x2="206.42" y2="473.706" stroke="#666" stroke-width="1" />
<line x1="203.11999999999998" y1="473.706" x2="209.72" y2="473.706" stroke="#666" stroke-width="1" />
<rect x="200.62" y="474.3342" width="11.6" height="1.4658000000000015" fill="#c9c9c9" stroke="#8c8c8c" stroke-width="0.7"/>
<line x1="206.42" y1="475.8" x2="206.42" y2="478.7" stroke="#222" stroke-width="1" />
<text x="197.78" y="490.3" font-size="9.00" textLength="18.02" lengthAdjust="spacingAndGlyphs" fill="#231f20" stroke="#231f20">NB4</text>
<line x1="225.38" y1="474.0201" x2="225.38" y2="473.3919" stroke="#666" stroke-width="1" />
<line x1="222.07999999999998" y1="473.3919" x2="228.68" y2="473.3919" stroke="#666" stroke-width="1" />
<rect x="219.58" y="474.0201" width="11.6" height="1.7798999999999978" fill="#c9c9c9" stroke="#8c8c8c" stroke-width="0.7"/>
<line x1="225.38" y1="475.8" x2="225.38" y2="478.7" stroke="#222" stroke-width="1" />
<text x="216.97" y="490.3" font-size="9.00" textLength="18.32" lengthAdjust="spacingAndGlyphs" fill="#231f20" stroke="#231f20">H2O</text>
<line x1="58.1" y1="475.8" x2="239" y2="475.8" stroke="#222" stroke-width="1" />
<text x="124.92" y="504.8" font-size="10.60" textLength="49.89" lengthAdjust="spacingAndGlyphs" fill="#231f20" stroke="#231f20">% e13a2 RNA</text>
<text transform="translate(28.40,454.97) rotate(-90)" x="0" y="0" font-size="9.40" textLength="67.01" lengthAdjust="spacingAndGlyphs" fill="#231f20" stroke="#231f20">Mean RFU (n = 4)</text>
<line x1="308.4" y1="368.0" x2="308.4" y2="477.9" stroke="#222" stroke-width="1" />
<line x1="305.09999999999997" y1="370.9" x2="308.4" y2="370.9" stroke="#222" stroke-width="1" />
<text x="282.47" y="373.59999999999997" font-size="9.00" textLength="18.62" lengthAdjust="spacingAndGlyphs" fill="#231f20" stroke="#231f20">1000</text>
<line x1="305.09999999999997" y1="392.2" x2="308.4" y2="392.2" stroke="#222" stroke-width="1" />
<text x="287.02" y="394.9" font-size="9.00" textLength="14.11" lengthAdjust="spacingAndGlyphs" fill="#231f20" stroke="#231f20">800</text>
<line x1="305.09999999999997" y1="413.5" x2="308.4" y2="413.5" stroke="#222" stroke-width="1" />
<text x="286.98" y="416.2" font-size="9.00" textLength="14.15" lengthAdjust="spacingAndGlyphs" fill="#231f20" stroke="#231f20">600</text>
<line x1="305.09999999999997" y1="434.79999999999995" x2="308.4" y2="434.79999999999995" stroke="#222" stroke-width="1" />
<text x="287.23" y="437.49999999999994" font-size="9.00" textLength="13.89" lengthAdjust="spacingAndGlyphs" fill="#231f20" stroke="#231f20">400</text>
<line x1="305.09999999999997" y1="456.09999999999997" x2="308.4" y2="456.09999999999997" stroke="#222" stroke-width="1" />
<text x="286.98" y="458.79999999999995" font-size="9.00" textLength="14.15" lengthAdjust="spacingAndGlyphs" fill="#231f20" stroke="#231f20">200</text>
<line x1="321.3" y1="388.15299999999996" x2="321.3" y2="383.1475" stroke="#222" stroke-width="1" />
<line x1="318.0" y1="383.1475" x2="324.6" y2="383.1475" stroke="#222" stroke-width="1" />
<rect x="315.2" y="388.15299999999996" width="12.2" height="89.24700000000001" fill="#114a85" />
<line x1="321.3" y1="477.4" x2="321.3" y2="480.29999999999995" stroke="#222" stroke-width="1" />
<text x="314.16" y="491.7" font-size="9.00" textLength="14.16" lengthAdjust="spacingAndGlyphs" fill="#231f20" stroke="#231f20">100</text>
<line x1="340.44" y1="388.366" x2="340.44" y2="383.893" stroke="#222" stroke-width="1" />
<line x1="337.14" y1="383.893" x2="343.74" y2="383.893" stroke="#222" stroke-width="1" />
<rect x="334.34" y="388.366" width="12.2" height="89.03399999999999" fill="#114a85" />
<line x1="340.44" y1="477.4" x2="340.44" y2="480.29999999999995" stroke="#222" stroke-width="1" />
<text x="335.75" y="491.7" font-size="9.00" textLength="9.57" lengthAdjust="spacingAndGlyphs" fill="#231f20" stroke="#231f20">50</text>
<line x1="359.58000000000004" y1="386.662" x2="359.58000000000004" y2="382.402" stroke="#222" stroke-width="1" />
<line x1="356.28000000000003" y1="382.402" x2="362.88000000000005" y2="382.402" stroke="#222" stroke-width="1" />
<rect x="353.48" y="386.662" width="12.2" height="90.738" fill="#114a85" />
<line x1="359.58000000000004" y1="477.4" x2="359.58000000000004" y2="480.29999999999995" stroke="#222" stroke-width="1" />
<text x="354.56" y="491.7" font-size="9.00" textLength="9.90" lengthAdjust="spacingAndGlyphs" fill="#231f20" stroke="#231f20">10</text>
<line x1="378.72" y1="387.19449999999995" x2="378.72" y2="381.86949999999996" stroke="#222" stroke-width="1" />
<line x1="375.42" y1="381.86949999999996" x2="382.02000000000004" y2="381.86949999999996" stroke="#222" stroke-width="1" />
<rect x="372.62" y="387.19449999999995" width="12.2" height="90.20550000000003" fill="#114a85" />
<line x1="378.72" y1="477.4" x2="378.72" y2="480.29999999999995" stroke="#222" stroke-width="1" />
<text x="376.25" y="491.7" font-size="9.00" textLength="5.15" lengthAdjust="spacingAndGlyphs" fill="#231f20" stroke="#231f20">5</text>
<line x1="397.86" y1="404.97999999999996" x2="397.86" y2="391.77399999999994" stroke="#222" stroke-width="1" />
<line x1="394.56" y1="391.77399999999994" x2="401.16" y2="391.77399999999994" stroke="#222" stroke-width="1" />
<rect x="391.76" y="404.97999999999996" width="12.2" height="72.42000000000002" fill="#114a85" />
<line x1="397.86" y1="477.4" x2="397.86" y2="480.29999999999995" stroke="#222" stroke-width="1" />
<text x="395.67" y="491.7" font-size="9.00" textLength="4.35" lengthAdjust="spacingAndGlyphs" fill="#231f20" stroke="#231f20">1</text>
<line x1="417.0" y1="407.962" x2="417.0" y2="399.1225" stroke="#222" stroke-width="1" />
<line x1="413.7" y1="399.1225" x2="420.3" y2="399.1225" stroke="#222" stroke-width="1" />
<rect x="410.9" y="407.962" width="12.2" height="69.43799999999999" fill="#114a85" />
<line x1="417.0" y1="477.4" x2="417.0" y2="480.29999999999995" stroke="#222" stroke-width="1" />
<text x="410.63" y="491.7" font-size="9.00" textLength="12.95" lengthAdjust="spacingAndGlyphs" fill="#231f20" stroke="#231f20">0.5</text>
<line x1="436.14" y1="473.67249999999996" x2="436.14" y2="473.03349999999995" stroke="#222" stroke-width="1" />
<line x1="432.84" y1="473.03349999999995" x2="439.44" y2="473.03349999999995" stroke="#222" stroke-width="1" />
<rect x="430.03999999999996" y="473.67249999999996" width="12.2" height="3.7275000000000205" fill="#114a85" />
<line x1="436.14" y1="477.4" x2="436.14" y2="480.29999999999995" stroke="#222" stroke-width="1" />
<text x="433.67" y="491.7" font-size="9.00" textLength="5.10" lengthAdjust="spacingAndGlyphs" fill="#231f20" stroke="#231f20">0</text>
<line x1="455.28000000000003" y1="473.566" x2="455.28000000000003" y2="472.714" stroke="#666" stroke-width="1" />
<line x1="451.98" y1="472.714" x2="458.58000000000004" y2="472.714" stroke="#666" stroke-width="1" />
<rect x="449.58" y="473.566" width="11.399999999999999" height="3.834000000000003" fill="#c9c9c9" stroke="#8c8c8c" stroke-width="0.7"/>
<line x1="455.28000000000003" y1="477.4" x2="455.28000000000003" y2="480.29999999999995" stroke="#222" stroke-width="1" />
<text x="446.64" y="491.7" font-size="9.00" textLength="18.02" lengthAdjust="spacingAndGlyphs" fill="#231f20" stroke="#231f20">NB4</text>
<line x1="474.42" y1="473.8855" x2="474.42" y2="473.0335" stroke="#666" stroke-width="1" />
<line x1="471.12" y1="473.0335" x2="477.72" y2="473.0335" stroke="#666" stroke-width="1" />
<rect x="468.71999999999997" y="473.8855" width="11.399999999999999" height="3.514499999999998" fill="#c9c9c9" stroke="#8c8c8c" stroke-width="0.7"/>
<line x1="474.42" y1="477.4" x2="474.42" y2="480.29999999999995" stroke="#222" stroke-width="1" />
<text x="466.01" y="491.7" font-size="9.00" textLength="18.32" lengthAdjust="spacingAndGlyphs" fill="#231f20" stroke="#231f20">H2O</text>
<line x1="305.4" y1="477.4" x2="487.5" y2="477.4" stroke="#222" stroke-width="1" />
<text x="372.82" y="505.6" font-size="10.60" textLength="49.89" lengthAdjust="spacingAndGlyphs" fill="#231f20" stroke="#231f20">% e14a2 RNA</text>
<text transform="translate(275.70,456.07) rotate(-90)" x="0" y="0" font-size="9.40" textLength="67.62" lengthAdjust="spacingAndGlyphs" fill="#231f20" stroke="#231f20">Mean RFU (n = 4)</text>
<text x="78.88" y="532.2" font-size="10.30" textLength="99.90" lengthAdjust="spacingAndGlyphs" fill="#231f20" stroke="#231f20"><tspan font-style="italic">BCR</tspan>::<tspan font-style="italic">ABL1</tspan> detection</text>
<text x="84.28" y="550.2" font-size="9.30" textLength="30.20" lengthAdjust="spacingAndGlyphs" fill="#231f20" stroke="#231f20">Isoform</text>
<text x="82.04" y="560.8" font-size="9.30" textLength="33.38" lengthAdjust="spacingAndGlyphs" fill="#231f20" stroke="#231f20">agnostic</text>
<text x="117.09" y="545.6" font-size="9.30" textLength="62.85" lengthAdjust="spacingAndGlyphs" fill="#231f20" stroke="#231f20">Isoform-specific</text>
<line x1="119.4" y1="551.5" x2="172.3" y2="551.5" stroke="#444" stroke-width="1" />
<text x="120.65" y="561.2" font-size="9.30" textLength="24.09" lengthAdjust="spacingAndGlyphs" fill="#231f20" stroke="#231f20">e13a2</text>
<text x="148.15" y="561.2" font-size="9.30" textLength="24.09" lengthAdjust="spacingAndGlyphs" fill="#231f20" stroke="#231f20">e14a2</text>
<rect x="86.2" y="567.9" width="27" height="30.599999999999998" fill="#114a87" />
<line x1="86.2" y1="573.0" x2="113.2" y2="573.0" stroke="#4677b3" stroke-width="0.9" />
<line x1="86.2" y1="578.1" x2="113.2" y2="578.1" stroke="#4677b3" stroke-width="0.9" />
<line x1="86.2" y1="583.1999999999999" x2="113.2" y2="583.1999999999999" stroke="#4677b3" stroke-width="0.9" />
<line x1="86.2" y1="588.3" x2="113.2" y2="588.3" stroke="#4677b3" stroke-width="0.9" />
<line x1="86.2" y1="593.4" x2="113.2" y2="593.4" stroke="#4677b3" stroke-width="0.9" />
<rect x="119.4" y="567.9" width="26.6" height="30.599999999999998" fill="#114a87" />
<line x1="119.4" y1="573.0" x2="146.0" y2="573.0" stroke="#4677b3" stroke-width="0.9" />
<line x1="119.4" y1="578.1" x2="146.0" y2="578.1" stroke="#4677b3" stroke-width="0.9" />
<line x1="119.4" y1="583.1999999999999" x2="146.0" y2="583.1999999999999" stroke="#4677b3" stroke-width="0.9" />
<line x1="119.4" y1="588.3" x2="146.0" y2="588.3" stroke="#4677b3" stroke-width="0.9" />
<line x1="119.4" y1="593.4" x2="146.0" y2="593.4" stroke="#4677b3" stroke-width="0.9" />
<rect x="147" y="567.9" width="26.8" height="30.599999999999998" fill="#99979e" />
<line x1="147" y1="573.0" x2="173.8" y2="573.0" stroke="#c2bfc8" stroke-width="0.9" />
<line x1="147" y1="578.1" x2="173.8" y2="578.1" stroke="#c2bfc8" stroke-width="0.9" />
<line x1="147" y1="583.1999999999999" x2="173.8" y2="583.1999999999999" stroke="#c2bfc8" stroke-width="0.9" />
<line x1="147" y1="588.3" x2="173.8" y2="588.3" stroke="#c2bfc8" stroke-width="0.9" />
<line x1="147" y1="593.4" x2="173.8" y2="593.4" stroke="#c2bfc8" stroke-width="0.9" />
<line x1="80.7" y1="568.1999999999999" x2="80.7" y2="598.2" stroke="#333" stroke-width="1" />
<rect x="86.2" y="600.8" width="27" height="25.5" fill="#114a87" />
<line x1="86.2" y1="605.9" x2="113.2" y2="605.9" stroke="#4677b3" stroke-width="0.9" />
<line x1="86.2" y1="611.0" x2="113.2" y2="611.0" stroke="#4677b3" stroke-width="0.9" />
<line x1="86.2" y1="616.0999999999999" x2="113.2" y2="616.0999999999999" stroke="#4677b3" stroke-width="0.9" />
<line x1="86.2" y1="621.1999999999999" x2="113.2" y2="621.1999999999999" stroke="#4677b3" stroke-width="0.9" />
<rect x="119.4" y="600.8" width="26.6" height="25.5" fill="#99979e" />
<line x1="119.4" y1="605.9" x2="146.0" y2="605.9" stroke="#c2bfc8" stroke-width="0.9" />
<line x1="119.4" y1="611.0" x2="146.0" y2="611.0" stroke="#c2bfc8" stroke-width="0.9" />
<line x1="119.4" y1="616.0999999999999" x2="146.0" y2="616.0999999999999" stroke="#c2bfc8" stroke-width="0.9" />
<line x1="119.4" y1="621.1999999999999" x2="146.0" y2="621.1999999999999" stroke="#c2bfc8" stroke-width="0.9" />
<rect x="147" y="600.8" width="26.8" height="25.5" fill="#114a87" />
<line x1="147" y1="605.9" x2="173.8" y2="605.9" stroke="#4677b3" stroke-width="0.9" />
<line x1="147" y1="611.0" x2="173.8" y2="611.0" stroke="#4677b3" stroke-width="0.9" />
<line x1="147" y1="616.0999999999999" x2="173.8" y2="616.0999999999999" stroke="#4677b3" stroke-width="0.9" />
<line x1="147" y1="621.1999999999999" x2="173.8" y2="621.1999999999999" stroke="#4677b3" stroke-width="0.9" />
<line x1="80.7" y1="601.0999999999999" x2="80.7" y2="626.0" stroke="#333" stroke-width="1" />
<rect x="86.2" y="628.2" width="27" height="10.2" fill="#114a87" />
<line x1="86.2" y1="633.3000000000001" x2="113.2" y2="633.3000000000001" stroke="#4677b3" stroke-width="0.9" />
<rect x="119.4" y="628.2" width="26.6" height="10.2" fill="#114a87" />
<line x1="119.4" y1="633.3000000000001" x2="146.0" y2="633.3000000000001" stroke="#4677b3" stroke-width="0.9" />
<rect x="147" y="628.2" width="26.8" height="10.2" fill="#114a87" />
<line x1="147" y1="633.3000000000001" x2="173.8" y2="633.3000000000001" stroke="#4677b3" stroke-width="0.9" />
<line x1="80.7" y1="628.5" x2="80.7" y2="638.1000000000001" stroke="#333" stroke-width="1" />
<rect x="86.2" y="640.3" width="27" height="71.39999999999999" fill="#99979e" />
<line x1="86.2" y1="645.4" x2="113.2" y2="645.4" stroke="#c2bfc8" stroke-width="0.9" />
<line x1="86.2" y1="650.5" x2="113.2" y2="650.5" stroke="#c2bfc8" stroke-width="0.9" />
<line x1="86.2" y1="655.5999999999999" x2="113.2" y2="655.5999999999999" stroke="#c2bfc8" stroke-width="0.9" />
<line x1="86.2" y1="660.6999999999999" x2="113.2" y2="660.6999999999999" stroke="#c2bfc8" stroke-width="0.9" />
<line x1="86.2" y1="665.8" x2="113.2" y2="665.8" stroke="#c2bfc8" stroke-width="0.9" />
<line x1="86.2" y1="670.9" x2="113.2" y2="670.9" stroke="#c2bfc8" stroke-width="0.9" />
<line x1="86.2" y1="676.0" x2="113.2" y2="676.0" stroke="#c2bfc8" stroke-width="0.9" />
<line x1="86.2" y1="681.0999999999999" x2="113.2" y2="681.0999999999999" stroke="#c2bfc8" stroke-width="0.9" />
<line x1="86.2" y1="686.1999999999999" x2="113.2" y2="686.1999999999999" stroke="#c2bfc8" stroke-width="0.9" />
<line x1="86.2" y1="691.3" x2="113.2" y2="691.3" stroke="#c2bfc8" stroke-width="0.9" />
<line x1="86.2" y1="696.4" x2="113.2" y2="696.4" stroke="#c2bfc8" stroke-width="0.9" />
<line x1="86.2" y1="701.5" x2="113.2" y2="701.5" stroke="#c2bfc8" stroke-width="0.9" />
<line x1="86.2" y1="706.5999999999999" x2="113.2" y2="706.5999999999999" stroke="#c2bfc8" stroke-width="0.9" />
<rect x="119.4" y="640.3" width="26.6" height="71.39999999999999" fill="#99979e" />
<line x1="119.4" y1="645.4" x2="146.0" y2="645.4" stroke="#c2bfc8" stroke-width="0.9" />
<line x1="119.4" y1="650.5" x2="146.0" y2="650.5" stroke="#c2bfc8" stroke-width="0.9" />
<line x1="119.4" y1="655.5999999999999" x2="146.0" y2="655.5999999999999" stroke="#c2bfc8" stroke-width="0.9" />
<line x1="119.4" y1="660.6999999999999" x2="146.0" y2="660.6999999999999" stroke="#c2bfc8" stroke-width="0.9" />
<line x1="119.4" y1="665.8" x2="146.0" y2="665.8" stroke="#c2bfc8" stroke-width="0.9" />
<line x1="119.4" y1="670.9" x2="146.0" y2="670.9" stroke="#c2bfc8" stroke-width="0.9" />
<line x1="119.4" y1="676.0" x2="146.0" y2="676.0" stroke="#c2bfc8" stroke-width="0.9" />
<line x1="119.4" y1="681.0999999999999" x2="146.0" y2="681.0999999999999" stroke="#c2bfc8" stroke-width="0.9" />
<line x1="119.4" y1="686.1999999999999" x2="146.0" y2="686.1999999999999" stroke="#c2bfc8" stroke-width="0.9" />
<line x1="119.4" y1="691.3" x2="146.0" y2="691.3" stroke="#c2bfc8" stroke-width="0.9" />
<line x1="119.4" y1="696.4" x2="146.0" y2="696.4" stroke="#c2bfc8" stroke-width="0.9" />
<line x1="119.4" y1="701.5" x2="146.0" y2="701.5" stroke="#c2bfc8" stroke-width="0.9" />
<line x1="119.4" y1="706.5999999999999" x2="146.0" y2="706.5999999999999" stroke="#c2bfc8" stroke-width="0.9" />
<rect x="147" y="640.3" width="26.8" height="71.39999999999999" fill="#99979e" />
<line x1="147" y1="645.4" x2="173.8" y2="645.4" stroke="#c2bfc8" stroke-width="0.9" />
<line x1="147" y1="650.5" x2="173.8" y2="650.5" stroke="#c2bfc8" stroke-width="0.9" />
<line x1="147" y1="655.5999999999999" x2="173.8" y2="655.5999999999999" stroke="#c2bfc8" stroke-width="0.9" />
<line x1="147" y1="660.6999999999999" x2="173.8" y2="660.6999999999999" stroke="#c2bfc8" stroke-width="0.9" />
<line x1="147" y1="665.8" x2="173.8" y2="665.8" stroke="#c2bfc8" stroke-width="0.9" />
<line x1="147" y1="670.9" x2="173.8" y2="670.9" stroke="#c2bfc8" stroke-width="0.9" />
<line x1="147" y1="676.0" x2="173.8" y2="676.0" stroke="#c2bfc8" stroke-width="0.9" />
<line x1="147" y1="681.0999999999999" x2="173.8" y2="681.0999999999999" stroke="#c2bfc8" stroke-width="0.9" />
<line x1="147" y1="686.1999999999999" x2="173.8" y2="686.1999999999999" stroke="#c2bfc8" stroke-width="0.9" />
<line x1="147" y1="691.3" x2="173.8" y2="691.3" stroke="#c2bfc8" stroke-width="0.9" />
<line x1="147" y1="696.4" x2="173.8" y2="696.4" stroke="#c2bfc8" stroke-width="0.9" />
<line x1="147" y1="701.5" x2="173.8" y2="701.5" stroke="#c2bfc8" stroke-width="0.9" />
<line x1="147" y1="706.5999999999999" x2="173.8" y2="706.5999999999999" stroke="#c2bfc8" stroke-width="0.9" />
<line x1="80.7" y1="640.5999999999999" x2="80.7" y2="711.4" stroke="#333" stroke-width="1" />
<rect x="146.2" y="567.9" width="0.8" height="146" fill="#e6e6ee" />
<text x="52.95" y="585.6" font-size="9.20" textLength="24.60" lengthAdjust="spacingAndGlyphs" fill="#231f20" stroke="#231f20">e13a2</text>
<text x="52.95" y="616.8" font-size="9.20" textLength="24.60" lengthAdjust="spacingAndGlyphs" fill="#231f20" stroke="#231f20">e14a2</text>
<text x="17.55" y="636.4" font-size="9.20" textLength="59.99" lengthAdjust="spacingAndGlyphs" fill="#231f20" stroke="#231f20">e13a2 &amp; e14a2</text>
<text x="40.75" y="674.4" font-size="9.20" textLength="36.78" lengthAdjust="spacingAndGlyphs" fill="#231f20" stroke="#231f20">Negative</text>
<text x="45.74" y="684.5" font-size="9.20" textLength="31.69" lengthAdjust="spacingAndGlyphs" fill="#231f20" stroke="#231f20">controls</text>
<defs><linearGradient id="cb" x1="0" y1="0" x2="1" y2="0"><stop offset="0" stop-color="#a09cac"/><stop offset="0.12" stop-color="#7d79b0"/><stop offset="0.45" stop-color="#5655aa"/><stop offset="1" stop-color="#353a93"/></linearGradient></defs>
<rect x="121.2" y="721.1" width="50.5" height="12.2" fill="url(#cb)" stroke="#3a3a5a" stroke-width="0.6"/>
<text x="119.06" y="743.7" font-size="9.20" textLength="4.75" lengthAdjust="spacingAndGlyphs" fill="#231f20" stroke="#231f20">0</text>
<text x="139.25" y="743.7" font-size="9.20" textLength="14.59" lengthAdjust="spacingAndGlyphs" fill="#231f20" stroke="#231f20">500</text>
<text x="162.47" y="743.7" font-size="9.20" textLength="18.62" lengthAdjust="spacingAndGlyphs" fill="#231f20" stroke="#231f20">1000</text>
<text x="68.10" y="727.5" font-size="9.20" textLength="31.72" lengthAdjust="spacingAndGlyphs" fill="#231f20" stroke="#231f20">Relative</text>
<text x="60.07" y="737.9" font-size="9.20" textLength="49.02" lengthAdjust="spacingAndGlyphs" fill="#231f20" stroke="#231f20">fluorescence</text>
<text x="67.12" y="747.2" font-size="9.20" textLength="32.87" lengthAdjust="spacingAndGlyphs" fill="#231f20" stroke="#231f20">intensity</text>
<text x="270.43" y="549.9" font-size="10.20" textLength="78.85" lengthAdjust="spacingAndGlyphs" fill="#231f20" stroke="#231f20">Isoform agnostic</text>
<text x="271.36" y="562.7" font-size="10.20" textLength="74.31" lengthAdjust="spacingAndGlyphs" fill="#231f20" stroke="#231f20">CML diagnostic</text>
<line x1="252.5" y1="568.3" x2="252.5" y2="674.5" stroke="#222" stroke-width="1" />
<line x1="252.5" y1="674.1" x2="367.5" y2="674.1" stroke="#222" stroke-width="1" />
<line x1="249.2" y1="571.5" x2="252.5" y2="571.5" stroke="#222" stroke-width="1" />
<text x="226.23" y="574.7" font-size="9.30" textLength="19.88" lengthAdjust="spacingAndGlyphs" fill="#231f20" stroke="#231f20">1000</text>
<line x1="249.2" y1="617.15" x2="252.5" y2="617.15" stroke="#222" stroke-width="1" />
<text x="231.65" y="620.35" font-size="9.30" textLength="14.48" lengthAdjust="spacingAndGlyphs" fill="#231f20" stroke="#231f20">500</text>
<line x1="249.2" y1="662.8" x2="252.5" y2="662.8" stroke="#222" stroke-width="1" />
<text x="240.82" y="666.0" font-size="9.30" textLength="5.33" lengthAdjust="spacingAndGlyphs" fill="#231f20" stroke="#231f20">0</text>
<line x1="250.2" y1="594.3249999999999" x2="252.5" y2="594.3249999999999" stroke="#222" stroke-width="0.8" />
<line x1="250.2" y1="639.9749999999999" x2="252.5" y2="639.9749999999999" stroke="#222" stroke-width="0.8" />
<line x1="254" y1="662.8" x2="367" y2="662.8" stroke="#333" stroke-width="1" stroke-dasharray="1.3,2"/>
<line x1="285" y1="674.1" x2="285" y2="677" stroke="#222" stroke-width="1" />
<line x1="334.5" y1="674.1" x2="334.5" y2="677" stroke="#222" stroke-width="1" />
<rect x="269.5" y="601.9" width="32" height="3.0" fill="#7384a6" />
<circle cx="277.4" cy="603.5" r="1.1" fill="#5a6d93" stroke="#23375c" stroke-width="0.45"/>
<circle cx="281.5" cy="603.6" r="1.1" fill="#5a6d93" stroke="#23375c" stroke-width="0.45"/>
<circle cx="289.4" cy="602.6" r="1.1" fill="#5a6d93" stroke="#23375c" stroke-width="0.45"/>
<circle cx="270.4" cy="604.0" r="1.1" fill="#5a6d93" stroke="#23375c" stroke-width="0.45"/>
<circle cx="278.0" cy="602.9" r="1.1" fill="#5a6d93" stroke="#23375c" stroke-width="0.45"/>
<circle cx="300.9" cy="603.3" r="1.1" fill="#5a6d93" stroke="#23375c" stroke-width="0.45"/>
<circle cx="295.9" cy="603.4" r="1.1" fill="#5a6d93" stroke="#23375c" stroke-width="0.45"/>
<circle cx="289.8" cy="602.8" r="1.1" fill="#5a6d93" stroke="#23375c" stroke-width="0.45"/>
<circle cx="289.7" cy="604.1" r="1.1" fill="#5a6d93" stroke="#23375c" stroke-width="0.45"/>
<circle cx="286.2" cy="603.8" r="1.1" fill="#5a6d93" stroke="#23375c" stroke-width="0.45"/>
<circle cx="290.8" cy="602.6" r="1.1" fill="#5a6d93" stroke="#23375c" stroke-width="0.45"/>
<circle cx="293.5" cy="603.6" r="1.1" fill="#5a6d93" stroke="#23375c" stroke-width="0.45"/>
<circle cx="279.3" cy="602.6" r="1.1" fill="#5a6d93" stroke="#23375c" stroke-width="0.45"/>
<circle cx="296.8" cy="603.4" r="1.1" fill="#5a6d93" stroke="#23375c" stroke-width="0.45"/>
<circle cx="292.3" cy="604.1" r="1.1" fill="#5a6d93" stroke="#23375c" stroke-width="0.45"/>
<circle cx="292.1" cy="604.2" r="1.1" fill="#5a6d93" stroke="#23375c" stroke-width="0.45"/>
<circle cx="282.2" cy="603.9" r="1.1" fill="#5a6d93" stroke="#23375c" stroke-width="0.45"/>
<circle cx="283.8" cy="604.2" r="1.1" fill="#5a6d93" stroke="#23375c" stroke-width="0.45"/>
<circle cx="297.2" cy="602.7" r="1.1" fill="#5a6d93" stroke="#23375c" stroke-width="0.45"/>
<circle cx="274.2" cy="602.9" r="1.1" fill="#5a6d93" stroke="#23375c" stroke-width="0.45"/>
<circle cx="299.9" cy="603.3" r="1.1" fill="#5a6d93" stroke="#23375c" stroke-width="0.45"/>
<circle cx="289.4" cy="603.0" r="1.1" fill="#5a6d93" stroke="#23375c" stroke-width="0.45"/>
<circle cx="285.7" cy="603.2" r="1.1" fill="#5a6d93" stroke="#23375c" stroke-width="0.45"/>
<circle cx="280.9" cy="603.6" r="1.1" fill="#5a6d93" stroke="#23375c" stroke-width="0.45"/>
<circle cx="288.1" cy="604.1" r="1.1" fill="#5a6d93" stroke="#23375c" stroke-width="0.45"/>
<circle cx="291.1" cy="604.2" r="1.1" fill="#5a6d93" stroke="#23375c" stroke-width="0.45"/>
<circle cx="296.5" cy="604.3" r="1.1" fill="#5a6d93" stroke="#23375c" stroke-width="0.45"/>
<circle cx="290.8" cy="602.8" r="1.1" fill="#5a6d93" stroke="#23375c" stroke-width="0.45"/>
<circle cx="296.7" cy="604.2" r="1.1" fill="#5a6d93" stroke="#23375c" stroke-width="0.45"/>
<circle cx="298.0" cy="603.5" r="1.1" fill="#5a6d93" stroke="#23375c" stroke-width="0.45"/>
<line x1="269" y1="603.4" x2="302" y2="603.4" stroke="#1d3563" stroke-width="0.8" />
<circle cx="340.3" cy="664.2" r="1.1" fill="#b9d8a8" stroke="#7db46a" stroke-width="0.5"/>
<circle cx="343.7" cy="666.0" r="1.1" fill="#b9d8a8" stroke="#7db46a" stroke-width="0.5"/>
<circle cx="328.1" cy="663.5" r="1.1" fill="#b9d8a8" stroke="#7db46a" stroke-width="0.5"/>
<circle cx="344.3" cy="668.0" r="1.1" fill="#b9d8a8" stroke="#7db46a" stroke-width="0.5"/>
<circle cx="322.5" cy="667.0" r="1.1" fill="#b9d8a8" stroke="#7db46a" stroke-width="0.5"/>
<circle cx="331.7" cy="663.9" r="1.1" fill="#b9d8a8" stroke="#7db46a" stroke-width="0.5"/>
<circle cx="328.4" cy="666.9" r="1.1" fill="#b9d8a8" stroke="#7db46a" stroke-width="0.5"/>
<circle cx="344.9" cy="663.4" r="1.1" fill="#b9d8a8" stroke="#7db46a" stroke-width="0.5"/>
<circle cx="337.5" cy="663.4" r="1.1" fill="#b9d8a8" stroke="#7db46a" stroke-width="0.5"/>
<circle cx="340.5" cy="664.8" r="1.1" fill="#b9d8a8" stroke="#7db46a" stroke-width="0.5"/>
<circle cx="345.1" cy="667.9" r="1.1" fill="#b9d8a8" stroke="#7db46a" stroke-width="0.5"/>
<circle cx="334.4" cy="668.0" r="1.1" fill="#b9d8a8" stroke="#7db46a" stroke-width="0.5"/>
<circle cx="328.8" cy="663.6" r="1.1" fill="#b9d8a8" stroke="#7db46a" stroke-width="0.5"/>
<circle cx="337.1" cy="663.4" r="1.1" fill="#b9d8a8" stroke="#7db46a" stroke-width="0.5"/>
<circle cx="325.6" cy="665.2" r="1.1" fill="#b9d8a8" stroke="#7db46a" stroke-width="0.5"/>
<circle cx="337.4" cy="663.9" r="1.1" fill="#b9d8a8" stroke="#7db46a" stroke-width="0.5"/>
<circle cx="321.2" cy="667.4" r="1.1" fill="#b9d8a8" stroke="#7db46a" stroke-width="0.5"/>
<circle cx="328.9" cy="667.8" r="1.1" fill="#b9d8a8" stroke="#7db46a" stroke-width="0.5"/>
<circle cx="345.6" cy="665.0" r="1.1" fill="#b9d8a8" stroke="#7db46a" stroke-width="0.5"/>
<circle cx="333.1" cy="665.7" r="1.1" fill="#b9d8a8" stroke="#7db46a" stroke-width="0.5"/>
<circle cx="338.4" cy="666.1" r="1.1" fill="#b9d8a8" stroke="#7db46a" stroke-width="0.5"/>
<circle cx="335.9" cy="666.2" r="1.1" fill="#b9d8a8" stroke="#7db46a" stroke-width="0.5"/>
<circle cx="346.8" cy="665.6" r="1.1" fill="#b9d8a8" stroke="#7db46a" stroke-width="0.5"/>
<circle cx="332.3" cy="666.7" r="1.1" fill="#b9d8a8" stroke="#7db46a" stroke-width="0.5"/>
<rect x="318.2" y="662.5" width="32.2" height="6.2" fill="none" stroke="#333" stroke-width="0.8"/>
<line x1="318.2" y1="665.6" x2="350.4" y2="665.6" stroke="#333" stroke-width="0.7" />
<line x1="334.3" y1="668.7" x2="334.3" y2="671.2" stroke="#444" stroke-width="0.7" />
<line x1="326" y1="671.2" x2="342" y2="671.2" stroke="#9cc48a" stroke-width="0.8" />
<text x="263.77" y="688.75" font-size="9.60" textLength="42.70" lengthAdjust="spacingAndGlyphs" fill="#231f20" stroke="#231f20">Diagnostic</text>
<text x="259.07" y="698" font-size="9.60" textLength="52.49" lengthAdjust="spacingAndGlyphs" fill="#231f20" stroke="#231f20">CML samples</text>
<text x="259.10" y="707.5" font-size="9.60" textLength="53.41" lengthAdjust="spacingAndGlyphs" fill="#231f20" stroke="#231f20"><tspan font-style="italic">(EDTA tubes)</tspan></text>
<text x="315.49" y="688.75" font-size="9.60" textLength="37.45" lengthAdjust="spacingAndGlyphs" fill="#231f20" stroke="#231f20">Negative</text>
<text x="320.38" y="698" font-size="9.60" textLength="27.73" lengthAdjust="spacingAndGlyphs" fill="#231f20" stroke="#231f20">control</text>
<text transform="translate(220.60,675.57) rotate(-90)" x="0" y="0" font-size="11.00" textLength="108.38" lengthAdjust="spacingAndGlyphs" fill="#231f20" stroke="#231f20">Relative fluoresence intensity</text>
<text x="448.00" y="549.8" font-size="10.20" textLength="51.90" lengthAdjust="spacingAndGlyphs" fill="#231f20" stroke="#231f20"><tspan font-style="italic">BCR</tspan>::<tspan font-style="italic">ABL1</tspan></text>
<text x="455.11" y="562.2" font-size="10.20" textLength="36.78" lengthAdjust="spacingAndGlyphs" fill="#231f20" stroke="#231f20">RT-PCR</text>
<line x1="451.8" y1="573.3" x2="456.2" y2="573.3" stroke="#333" stroke-width="0.8" />
<line x1="454" y1="571.0999999999999" x2="454" y2="575.5" stroke="#333" stroke-width="0.8" />
<line x1="490.9" y1="573.7" x2="495.5" y2="573.7" stroke="#333" stroke-width="0.8" />
<line x1="425.90000000000003" y1="599.7" x2="429.7" y2="599.7" stroke="#333" stroke-width="0.8" />
<line x1="427.8" y1="597.8000000000001" x2="427.8" y2="601.6" stroke="#333" stroke-width="0.8" />
<line x1="426.5" y1="638" x2="429.70000000000005" y2="638" stroke="#333" stroke-width="0.8" />
<rect x="434.1" y="581.4" width="39.3" height="36.5" fill="#114a87" />
<rect x="474.3" y="581.4" width="38.8" height="36.5" fill="#c9c8cc" />
<rect x="434.1" y="619.8" width="39.3" height="36.5" fill="#c9c8cc" />
<rect x="474.3" y="619.8" width="38.8" height="36.5" fill="#9c9c9d" />
<text x="449.01" y="602.8" font-size="10.00" textLength="10.17" lengthAdjust="spacingAndGlyphs" fill="#ffffff" stroke="#ffffff">13</text>
<text x="490.38" y="602.7" font-size="10.00" textLength="5.91" lengthAdjust="spacingAndGlyphs" fill="#333" stroke="#333">0</text>
<text x="451.09" y="641.2" font-size="10.00" textLength="5.68" lengthAdjust="spacingAndGlyphs" fill="#333" stroke="#333">0</text>
<text x="488.31" y="641.2" font-size="10.00" textLength="10.17" lengthAdjust="spacingAndGlyphs" fill="#e4e4e4" stroke="#e4e4e4">13</text>
<text transform="translate(406.30,650.46) rotate(-90)" x="0" y="0" font-size="9.30" textLength="62.49" lengthAdjust="spacingAndGlyphs" fill="#231f20" stroke="#231f20">Isoform-agnostic</text>
<text transform="translate(418.80,659.92) rotate(-90)" x="0" y="0" font-size="9.30" textLength="80.62" lengthAdjust="spacingAndGlyphs" fill="#231f20" stroke="#231f20"><tspan font-style="italic">BCR</tspan>::<tspan font-style="italic">ABL1</tspan>-SHERLOCK</text>
</svg>
</body></html>
